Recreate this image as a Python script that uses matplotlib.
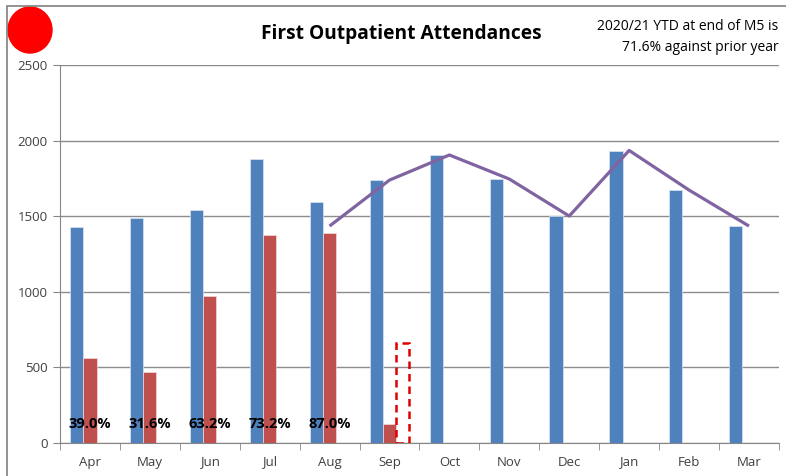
import matplotlib.pyplot as plt
import matplotlib.patches as mpatches
import numpy as np

months = ['Apr', 'May', 'Jun', 'Jul', 'Aug', 'Sep', 'Oct', 'Nov', 'Dec', 'Jan', 'Feb', 'Mar']
prior_year = [1428, 1490, 1541, 1878, 1594, 1739, 1905, 1746, 1501, 1931, 1673, 1435]
this_year = [562, 471, 974, 1376, 1387, 126]
sep_forecast = 660  # dashed box for Sep
trend_months = ['Aug', 'Sep', 'Oct', 'Nov', 'Dec', 'Jan', 'Feb', 'Mar']
trend_values = [1435, 1739, 1905, 1746, 1501, 1935, 1673, 1435]
pct_labels = ['39.0%', '31.6%', '63.2%', '73.2%', '87.0%']
yticks = [0, 500, 1000, 1500, 2000, 2500]

plt.rcParams['font.family'] = ['Open Sans', 'DejaVu Sans']

fig = plt.figure(figsize=(7.86, 4.76), dpi=100)
ax = fig.add_axes([0.0763, 0.0693, 0.9147, 0.7941])

x = np.arange(len(months))
w = 0.22
ax.bar(x - w, prior_year, width=w, color='#4F81BD', edgecolor='#DCE6F2', linewidth=0.5, zorder=3)
ax.bar(x[:len(this_year)], this_year, width=w, color='#C0504D', edgecolor='#F2DCDB', linewidth=0.5, zorder=3)
ax.bar(x[5] + w, sep_forecast, width=w, fill=False, edgecolor='#E00000',
       linestyle=(0, (3, 2)), linewidth=1.8, zorder=4)

tx = [months.index(m) for m in trend_months]
ax.plot(tx, trend_values, color='#8064A2', linewidth=2.3, zorder=5, solid_capstyle='butt')

for i, lab in enumerate(pct_labels):
    ax.text(i, 125, lab, ha='center', va='center', fontsize=10.5, fontweight='bold', color='black', zorder=6)

ax.set_xlim(-0.5, 11.5)
ax.set_ylim(0, 2500)
ax.set_yticks(yticks)
ax.set_xticks(x)
ax.set_xticklabels(months)
ax.set_xticks(np.arange(-0.5, 12, 1), minor=True)
ax.tick_params(axis='x', which='major', length=0, pad=9, labelsize=9.5, labelcolor='#404040')
ax.tick_params(axis='x', which='minor', length=5, color='#868686', direction='out')
ax.tick_params(axis='y', length=5, color='#868686', labelsize=9.5, labelcolor='#404040', pad=4)
ax.grid(axis='y', color='#8C8C8C', linewidth=1, zorder=0)
for s in ['top', 'right']:
    ax.spines[s].set_visible(False)
for s in ['left', 'bottom']:
    ax.spines[s].set_color('#868686')

# title and note
fig.text(0.51, 0.928, 'First Outpatient Attendances', ha='center', va='center',
         fontsize=13.8, fontweight='bold')
fig.text(0.99, 0.922, '2020/21 YTD at end of M5 is\n71.6% against prior year', ha='right', va='center',
         fontsize=10, linespacing=1.5)

# red status circle
fig.patches.append(mpatches.Ellipse((30 / 786, 1 - 30 / 476), 44 / 786, 46 / 476,
                                    transform=fig.transFigure, color='#FF0000'))
# outer frame
fig.patches.append(mpatches.Rectangle((7 / 786, -0.1), 1.1, 1 - 6 / 476 + 0.1, transform=fig.transFigure,
                                      fill=False, edgecolor='#808080', linewidth=1.2))

fig.savefig('out.png', dpi=100)
